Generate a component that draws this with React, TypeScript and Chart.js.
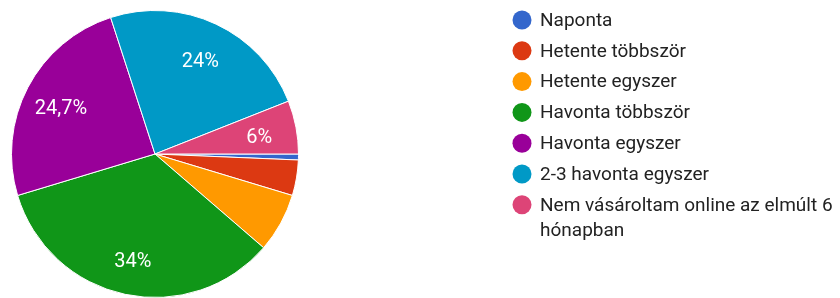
import React, { useEffect, useRef } from "react";
import { Chart, registerables } from "chart.js";

Chart.register(...registerables);

const categories = [
  "Naponta",
  "Hetente többször",
  "Hetente egyszer",
  "Havonta többször",
  "Havonta egyszer",
  "2-3 havonta egyszer",
  "Nem vásároltam online az elmúlt 6 hónapban",
];
const counts = [1, 6, 10, 51, 37, 36, 9];
const sliceLabels = ["", "", "", "34%", "24,7%", "24%", "6%"];
const colors = ["#3366cc", "#dc3912", "#ff9900", "#109618", "#990099", "#0099c6", "#dd4477"];

const FONT = "Roboto, 'Noto Sans', Arial, sans-serif";

const sliceLabelPlugin = {
  id: "sliceLabels",
  afterDatasetsDraw(chart: any) {
    const ctx = chart.ctx;
    const meta = chart.getDatasetMeta(0);
    ctx.save();
    ctx.fillStyle = "#ffffff";
    ctx.font = `20px ${FONT}`;
    ctx.textAlign = "center";
    ctx.textBaseline = "middle";
    meta.data.forEach((arc: any, i: number) => {
      const t = sliceLabels[i];
      if (!t) return;
      const { x, y, startAngle, endAngle, outerRadius } = arc.getProps(
        ["x", "y", "startAngle", "endAngle", "outerRadius"],
        true
      );
      const mid = (startAngle + endAngle) / 2;
      const r = outerRadius * 0.74;
      ctx.fillText(t, x + Math.cos(mid) * r, y + Math.sin(mid) * r + 4);
    });
    ctx.restore();
  },
};

const legendPlugin = {
  id: "sideLegend",
  afterDraw(chart: any) {
    const ctx = chart.ctx;
    ctx.save();
    ctx.font = `19px ${FONT}`;
    ctx.textBaseline = "middle";
    ctx.textAlign = "left";
    const markX = 522;
    const textX = 540;
    const maxW = chart.width - textX - 1;
    let y = 20;
    categories.forEach((label, i) => {
      const words = label.split(" ");
      const lines: string[] = [];
      let cur = "";
      words.forEach((w) => {
        const test = cur ? cur + " " + w : w;
        if (ctx.measureText(test).width > maxW && cur) {
          lines.push(cur);
          cur = w;
        } else cur = test;
      });
      if (cur) lines.push(cur);
      ctx.fillStyle = colors[i];
      ctx.beginPath();
      ctx.arc(markX, y, 9.5, 0, Math.PI * 2);
      ctx.fill();
      ctx.fillStyle = "#222222";
      lines.forEach((ln, j) => {
        ctx.fillText(ln, textX, y + 1 + j * 25);
      });
      y += 30.8 + (lines.length - 1) * 25;
    });
    ctx.restore();
  },
};

export default function App() {
  const ref = useRef<HTMLCanvasElement>(null);
  useEffect(() => {
    document.body.style.margin = "0";
    const chart = new Chart(ref.current!, {
      type: "pie",
      data: {
        labels: categories,
        datasets: [
          {
            data: counts,
            backgroundColor: colors,
            borderColor: "#ffffff",
            borderWidth: 1,
          },
        ],
      },
      options: {
        animation: false,
        responsive: false,
        rotation: 90,
        layout: { padding: { left: 11, top: 10, right: 541, bottom: 0 } },
        plugins: {
          legend: { display: false },
          tooltip: { enabled: false },
        },
      },
      plugins: [sliceLabelPlugin, legendPlugin],
    });
    return () => chart.destroy();
  }, []);
  return (
    <div style={{ width: 840, height: 298, background: "#fff" }}>
      <canvas ref={ref} width={840} height={298} style={{ display: "block" }} />
    </div>
  );
}
